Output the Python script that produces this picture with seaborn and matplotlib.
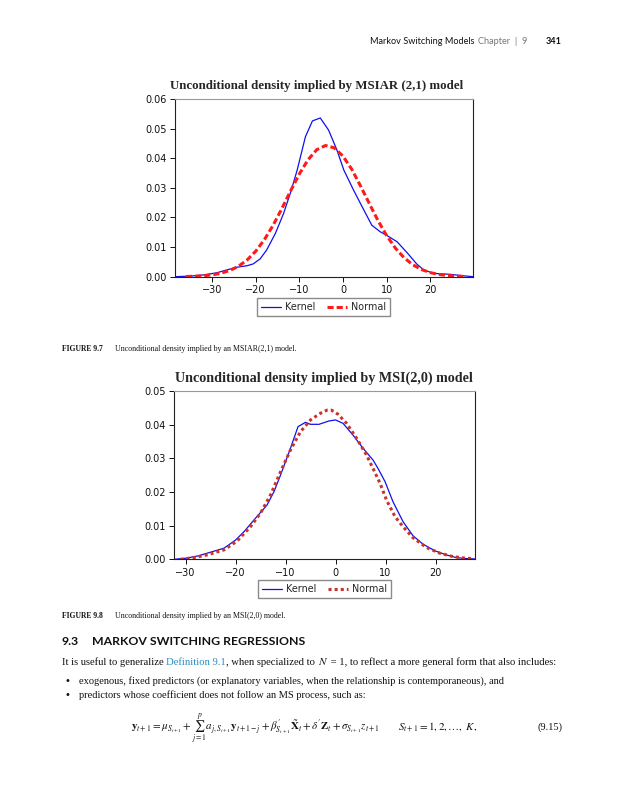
import numpy as np
import pandas as pd
import matplotlib
matplotlib.use("Agg")
import matplotlib.pyplot as plt
import seaborn as sns
from matplotlib.lines import Line2D

# ---------------- data ----------------
# Figure 9.7 : MSIAR(2,1)
msiar_kernel_x = [-38.5, -35, -32, -29, -26.6, -24.3, -22, -20.6, -19, -17.5, -15.5, -13.6,
                  -12, -10.5, -8.6, -7, -5.2, -3.3, -1.4, 0.2, 2.4, 4.4, 6.6, 8.5, 10.2,
                  12.4, 14.7, 16.9, 18.5, 20.8, 24.6, 27.6, 29.8]
msiar_kernel_y = [0.0, 0.0002, 0.0006, 0.0013, 0.0023, 0.0032, 0.0037, 0.0043, 0.0060, 0.0090,
                  0.0146, 0.0214, 0.0285, 0.0360, 0.0473, 0.0526, 0.0536, 0.0495, 0.0428,
                  0.0360, 0.0293, 0.0236, 0.0174, 0.0152, 0.0138, 0.0118, 0.0081, 0.0043,
                  0.0023, 0.0011, 0.0008, 0.0003, 0.0]
msiar_normal_x = [-36, -34, -32, -30, -28, -26, -24, -22, -20, -18, -16, -14, -12, -10, -8,
                  -6, -4, -2, 0, 2, 4, 6, 8, 10, 12, 14, 16, 18, 20, 22, 24, 26, 28]
msiar_normal_y = [0.00007, 0.00015, 0.00032, 0.00062, 0.00116, 0.00206, 0.00348, 0.00561,
                  0.0086, 0.01254, 0.0174, 0.0230, 0.0290, 0.0347, 0.0395, 0.0429, 0.0443,
                  0.0435, 0.0407, 0.0363, 0.0307, 0.0248, 0.0190, 0.0139, 0.00967, 0.0064,
                  0.00404, 0.00242, 0.00138, 0.00075, 0.00039, 0.00019, 0.00009]
msiar_xticks = [-30, -20, -10, 0, 10, 20]
msiar_yticks = [0.00, 0.01, 0.02, 0.03, 0.04, 0.05, 0.06]

# Figure 9.8 : MSI(2,0)
msi_kernel_x = [-32.3, -30, -27.5, -25.7, -22.3, -20, -18.3, -16.3, -13.7, -12.3, -11, -10,
                -9, -7.5, -6, -5, -3.3, -1.3, 0, 1.5, 3.5, 5.5, 7.5, 8.5, 9.9, 11.5, 13.5,
                15.5, 17.5, 19.9, 22.2, 24.2, 26.2, 27.9]
msi_kernel_y = [0.0, 0.0003, 0.0010, 0.0018, 0.0033, 0.0057, 0.0082, 0.0117, 0.0161, 0.0201,
                0.0250, 0.0290, 0.0330, 0.0394, 0.0407, 0.0401, 0.0401, 0.0411, 0.0414,
                0.0404, 0.0369, 0.0330, 0.0295, 0.0270, 0.0231, 0.0171, 0.0112, 0.0070,
                0.0045, 0.0025, 0.0013, 0.0005, 0.0002, 0.0001]
msi_normal_x = [-31, -28.3, -25.7, -22.3, -19.7, -17, -15, -13, -11, -9, -7, -5, -3, -1.7,
                -0.8, 0.5, 2.2, 4.2, 6.2, 7.5, 8.9, 10.2, 11.9, 13.5, 15.5, 18.2, 20.9,
                23.5, 26.2, 27.5]
msi_normal_y = [0.0, 0.0005, 0.0013, 0.0028, 0.0054, 0.0097, 0.0137, 0.0191, 0.0260, 0.0325,
                0.0379, 0.0414, 0.0434, 0.0443, 0.0443, 0.0431, 0.0404, 0.0360, 0.0310,
                0.0270, 0.0226, 0.0176, 0.0127, 0.0097, 0.0064, 0.0035, 0.0018, 0.0008,
                0.0003, 0.0002]
msi_xticks = [-30, -20, -10, 0, 10, 20]
msi_yticks = [0.00, 0.01, 0.02, 0.03, 0.04, 0.05]

series_labels = ["Kernel", "Normal"]

# ---------------- style ----------------
sns.set_style("white")
plt.rcParams['font.family'] = ['DejaVu Sans']
plt.rcParams['mathtext.fontset'] = 'stix'

W, H = 625, 800
fig = plt.figure(figsize=(W / 100, H / 100), dpi=100)
fig.patch.set_facecolor("white")


def fx(px):
    return px / W


def fy(py):
    return 1 - py / H


def make_axes(l, t, r, b):
    return fig.add_axes([fx(l), fy(b), (r - l) / W, (b - t) / H])


BLUE = "#1010ee"
RED1 = "#ff1a1a"
RED2 = "#c8342c"


def draw_chart(ax, kx, ky, nx, ny, red, dash, xlim, ylim, xticks, yticks):
    kdf = pd.DataFrame({"x": kx, "y": ky})
    ndf = pd.DataFrame({"x": nx, "y": ny})
    sns.lineplot(data=kdf, x="x", y="y", ax=ax, color=BLUE, lw=0.9, estimator=None,
                 label=series_labels[0])
    sns.lineplot(data=ndf, x="x", y="y", ax=ax, color=red, lw=2.2, estimator=None,
                 label=series_labels[1], dashes=False)
    ax.lines[-1].set_linestyle((0, dash))
    if ax.get_legend() is not None:
        ax.get_legend().remove()
    ax.set_xlim(*xlim)
    ax.set_ylim(*ylim)
    ax.set_xticks(xticks)
    ax.set_yticks(yticks)
    ax.set_xticklabels([("\u2212%d" % -t) if t < 0 else "%d" % t for t in xticks])
    ax.set_yticklabels(["%.2f" % t for t in yticks])
    ax.set_xlabel("")
    ax.set_ylabel("")
    ax.tick_params(axis="both", direction="out", length=3.5, width=0.7, labelsize=7,
                   pad=2.5, colors="#111111", left=True, bottom=True)
    for s in ["left", "bottom", "right"]:
        ax.spines[s].set_color("#222222")
        ax.spines[s].set_linewidth(0.8)
        ax.spines[s].set_visible(True)
    ax.spines["top"].set_color("#999999")
    ax.spines["top"].set_linewidth(0.8)
    ax.spines["top"].set_visible(True)
    ax.grid(False)


def draw_legend(cx, cy, red, dash):
    h = [Line2D([], [], color=BLUE, lw=0.9),
         Line2D([], [], color=red, lw=2.2, linestyle=(0, dash))]
    fig.legend(h, series_labels, loc="center", bbox_to_anchor=(fx(cx), fy(cy)), ncol=2,
               frameon=True, fancybox=False, edgecolor="#8a8a8a", fontsize=6.9,
               handlelength=2.1, handletextpad=0.45, columnspacing=1.2, borderpad=0.4,
               framealpha=1)


# chart 1
ax1 = make_axes(175, 99, 473, 276.7)
draw_chart(ax1, msiar_kernel_x, msiar_kernel_y, msiar_normal_x, msiar_normal_y, RED1, (2, 1),
           (-38.5, 29.8), (0, 0.06), msiar_xticks, msiar_yticks)
fig.text(fx(317), fy(86), "Unconditional density implied by MSIAR (2,1) model", ha="center",
         va="center", fontsize=9.3, fontweight="bold", family="Liberation Serif")
draw_legend(323.5, 307, RED1, (2, 1))

# chart 2
ax2 = make_axes(174, 391, 475, 559.3)
draw_chart(ax2, msi_kernel_x, msi_kernel_y, msi_normal_x, msi_normal_y, RED2, (1, 1),
           (-32.3, 27.9), (0, 0.05), msi_xticks, msi_yticks)
fig.text(fx(324), fy(378), "Unconditional density implied by MSI(2,0) model", ha="center",
         va="center", fontsize=10.2, fontweight="bold", family="Liberation Serif")
draw_legend(324.5, 589, RED2, (1, 1))

# ---------------- page text ----------------
renderer = fig.canvas.get_renderer()


def run(x_px, y_px, segments):
    x = fx(x_px)
    for seg in segments:
        txt, kw = seg
        t = fig.text(x, fy(y_px), txt, ha="left", va="baseline", **kw)
        bb = t.get_window_extent(renderer=renderer)
        x = bb.x1 / (W)
    return x


# header
fig.text(fx(562), fy(43.5), "341", ha="right", va="baseline", fontsize=6.6, fontweight="bold",
         family="Lato", color="#111111")
fig.text(fx(370), fy(43.5), "Markov Switching Models", ha="left", va="baseline", fontsize=6.6,
         family="Lato", color="#111111")
fig.text(fx(478), fy(43.5), "Chapter  |  9", ha="left", va="baseline", fontsize=6.6,
         family="Lato", color="#777777")

# captions
cap_b = dict(family="Liberation Serif", fontsize=5.5, fontweight="bold", color="#111111")
cap_n = dict(family="Liberation Serif", fontsize=5.7, color="#111111")
run(62, 351, [("FIGURE 9.7", cap_b), ("      Unconditional density implied by an MSIAR(2,1) model.", cap_n)])
run(62, 618, [("FIGURE 9.8", cap_b), ("      Unconditional density implied by an MSI(2,0) model.", cap_n)])

# heading
fig.text(fx(62), fy(645), "9.3", ha="left", va="baseline", fontsize=8.8, fontweight="bold",
         family="Lato", color="#111111")
fig.text(fx(92), fy(645), "MARKOV SWITCHING REGRESSIONS", ha="left", va="baseline",
         fontsize=8.8, fontweight="bold", family="Lato", color="#111111")

body = dict(family="Liberation Serif", fontsize=7.5, color="#111111")
para = dict(body, fontsize=7.7)
run(62, 665, [("It is useful to generalize ", para),
              ("Definition 9.1", dict(para, color="#2a8fc0")),
              (", when specialized to ", para),
              ("$N$", dict(para, fontsize=8.1)),
              (" = 1, to reflect a more general form that also includes:", para)])
fig.text(fx(65), fy(684), "\u2022", ha="left", va="baseline", fontsize=7, color="#111111")
fig.text(fx(79), fy(684),
         "exogenous, fixed predictors (or explanatory variables, when the relationship is contemporaneous), and",
         ha="left", va="baseline", **body)
fig.text(fx(65), fy(698), "\u2022", ha="left", va="baseline", fontsize=7, color="#111111")
fig.text(fx(79), fy(698), "predictors whose coefficient does not follow an MS process, such as:",
         ha="left", va="baseline", **body)

eq_main = (r"$\mathbf{y}_{t+1} = \mu_{S_{t+1}} + \sum_{j=1}^{p} a_{j,S_{t+1}}\mathbf{y}_{t+1-j}"
           r" + \beta^{\prime}_{S_{t+1}}\tilde{\mathbf{X}}_t + \delta^{\prime}\mathbf{Z}_t"
           r" + \sigma_{S_{t+1}} z_{t+1}$")
eq_tail = r"$S_{t+1} = 1, 2, \ldots,\ K,$"
fig.text(fx(131), fy(730), eq_main, ha="left", va="baseline", fontsize=7.9, color="#111111")
fig.text(fx(398), fy(730), eq_tail, ha="left", va="baseline", fontsize=7.9, color="#111111")
fig.text(fx(562), fy(730), "(9.15)", ha="right", va="baseline", **body)

fig.savefig("out.png", dpi=100, facecolor="white")
